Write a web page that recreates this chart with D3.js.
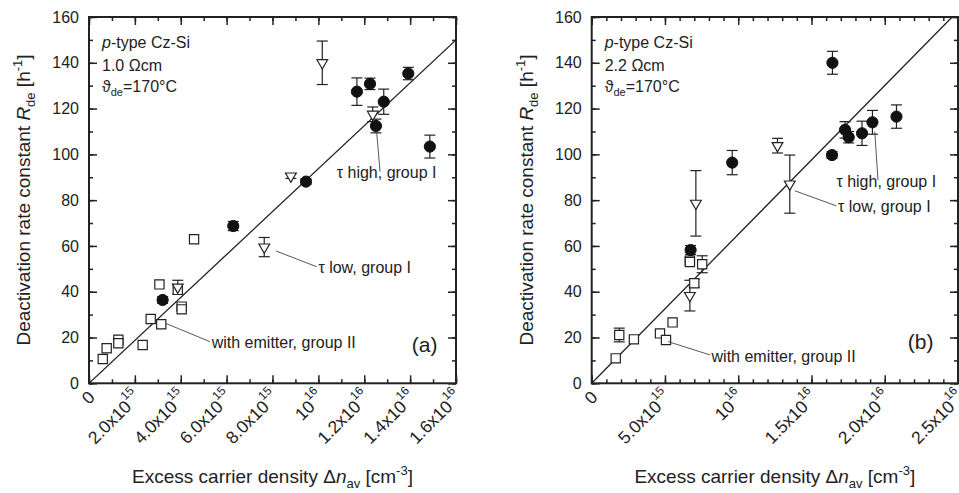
<!DOCTYPE html>
<html>
<head>
<meta charset="utf-8">
<script src="https://cdn.jsdelivr.net/npm/d3@7"></script>
<style>
  body { margin: 0; background: #fff; }
  text { font-family: "Liberation Sans", Arial, sans-serif; fill: #222; }
</style>
</head>
<body>
<script>
// ---- data: [excess carrier density (cm^-3), R_de (1/h), error] ----
const aHigh = [
  [11.68e15, 127.4, 6], [12.25e15, 130.8, 2.5], [12.85e15, 123, 5.5], [12.51e15, 112.4, 3],
  [13.92e15, 135.3, 2.7], [14.86e15, 103.4, 5], [9.46e15, 88.1, 1.2], [6.29e15, 68.7, 2],
  [3.21e15, 36.4, 1.5]
];
const aLow = [
  [10.17e15, 140, 9.5], [12.37e15, 117.5, 3.2], [8.8e15, 90.5, 1], [7.64e15, 59.5, 4.2],
  [3.87e15, 42, 3]
];
const aEmitter = [
  [4.58e15, 62.9, 0], [3.07e15, 43.2, 0], [3.87e15, 40.8, 0], [4.04e15, 33.5, 0],
  [4.04e15, 32.3, 0], [2.69e15, 28.1, 0], [3.15e15, 25.8, 0], [2.34e15, 16.7, 0],
  [1.28e15, 19, 0], [1.28e15, 17.5, 0], [0.77e15, 15.3, 0], [0.6e15, 10.6, 0]
];
const aFit = [[0, 0], [16e15, 150]];

const bHigh = [
  [16.43e15, 140, 5], [17.29e15, 110.7, 3.6], [17.54e15, 107.5, 2.5], [18.45e15, 109.2, 5.3],
  [19.16e15, 114, 5.2], [20.8e15, 116.5, 5.1], [16.4e15, 99.7, 1.5], [9.59e15, 96.4, 5.3],
  [6.75e15, 58.2, 2]
];
const bLow = [
  [12.68e15, 103.8, 3.2], [13.52e15, 87, 12.7], [7.11e15, 78.6, 14.3], [6.7e15, 38.3, 6.7]
];
const bEmitter = [
  [6.7e15, 53.6, 0], [6.7e15, 53, 0], [7.54e15, 52, 3.7], [7.0e15, 43.7, 1.7],
  [5.52e15, 26.6, 0], [4.66e15, 21.8, 0], [5.07e15, 18.9, 0], [2.88e15, 19.2, 0],
  [1.88e15, 21.1, 3], [1.64e15, 10.9, 0]
];
const bFit = [[0, 0], [24.6e15, 160]];

// tick labels: [value, mantissa, exponent]
const aXTicks = [
  [0, '0', ''], [2e15, '2.0x10', '15'], [4e15, '4.0x10', '15'], [6e15, '6.0x10', '15'],
  [8e15, '8.0x10', '15'], [10e15, '10', '16'], [12e15, '1.2x10', '16'], [14e15, '1.4x10', '16'],
  [16e15, '1.6x10', '16']
];
const bXTicks = [
  [0, '0', ''], [5e15, '5.0x10', '15'], [10e15, '10', '16'], [15e15, '1.5x10', '16'],
  [20e15, '2.0x10', '16'], [25e15, '2.5x10', '16']
];
const yTicks = [0, 20, 40, 60, 80, 100, 120, 140, 160];

const panels = [
  {
    high: aHigh, low: aLow, emitter: aEmitter, fit: aFit, xTicks: aXTicks,
    xMax: 16e15, minor: 1e15, left: 89, right: 456, rho: '1.0 Ωcm', tag: '(a)',
    tagAt: [14.07e15, 13.8],
    notes: [
      { text: 'τ high, group I', at: [10.8e15, 89.7], line: [[12.54e15, 109.9], [12.69e15, 92.4]] },
      { text: 'τ low, group I', at: [10.0e15, 48.3], line: [[8.15e15, 57.8], [9.93e15, 50.9]] },
      { text: 'with emitter, group II', at: [5.35e15, 15.3], line: [[3.34e15, 26.2], [5.27e15, 18.2]] }
    ]
  },
  {
    high: bHigh, low: bLow, emitter: bEmitter, fit: bFit, xTicks: bXTicks,
    xMax: 25e15, minor: 1e15, left: 591.7, right: 958, rho: '2.2 Ωcm', tag: '(b)',
    tagAt: [21.57e15, 14.9],
    notes: [
      { text: 'τ high, group I', at: [16.7e15, 85.9], line: [[19.32e15, 109.9], [19.54e15, 88.8]] },
      { text: 'τ low, group I', at: [16.81e15, 75], line: [[13.86e15, 84.1], [16.7e15, 77.5]] },
      { text: 'with emitter, group II', at: [8.18e15, 9.4], line: [[5.22e15, 18.2], [8.07e15, 12.4]] }
    ]
  }
];

const W = 959, H = 493, plotTop = 17, plotBottom = 383.3;
const ink = '#222';
const svg = d3.select('body').append('svg').attr('width', W).attr('height', H);

panels.forEach((p, i) => {
  const x = d3.scaleLinear().domain([0, p.xMax]).range([p.left, p.right]);
  const y = d3.scaleLinear().domain([0, 160]).range([plotBottom, plotTop]);
  const g = svg.append('g');
  const nMinor = Math.round(p.xMax / p.minor);
  const xMinorVals = d3.range(0, nMinor + 1).map(k => k * p.minor);
  const xMajorVals = p.xTicks.map(t => t[0]);
  const yMinorVals = d3.range(0, 17).map(k => k * 10);

  // clip for fit line
  g.append('clipPath').attr('id', 'clip' + i)
    .append('rect').attr('x', p.left).attr('y', plotTop)
    .attr('width', p.right - p.left).attr('height', plotBottom - plotTop);

  // ticks, inward on all four sides
  const tickAxes = [
    [d3.axisBottom(x), `translate(0,${plotBottom})`, xMinorVals, xMajorVals],
    [d3.axisTop(x), `translate(0,${plotTop})`, xMinorVals, xMajorVals],
    [d3.axisLeft(y), `translate(${p.left},0)`, yMinorVals, yTicks],
    [d3.axisRight(y), `translate(${p.right},0)`, yMinorVals, yTicks]
  ];
  tickAxes.forEach(([ax, tr, minorV, majorV]) => {
    const a1 = g.append('g').attr('transform', tr)
      .call(ax.tickValues(minorV).tickSize(-4).tickFormat(''));
    a1.select('.domain').remove();
    a1.selectAll('line').attr('stroke', ink).attr('stroke-width', 1.5);
    const a2 = g.append('g').attr('transform', tr)
      .call(ax.tickValues(majorV).tickSize(-8).tickFormat(''));
    a2.select('.domain').remove();
    a2.selectAll('line').attr('stroke', ink).attr('stroke-width', 1.5);
  });

  // y tick labels
  const yl = g.append('g').attr('transform', `translate(${p.left},0)`)
    .call(d3.axisLeft(y).tickValues(yTicks).tickSize(0).tickPadding(10));
  yl.select('.domain').remove();
  yl.attr('font-size', 16).attr('font-family', '"Liberation Sans", Arial, sans-serif');
  yl.selectAll('text').attr('fill', ink);

  // rotated x tick labels
  p.xTicks.forEach(([v, m, e]) => {
    const t = g.append('text')
      .attr('transform', `translate(${x(v) + 7},${plotBottom + 15}) rotate(-45)`)
      .attr('text-anchor', 'end').attr('font-size', 17.5);
    t.append('tspan').text(m);
    if (e) t.append('tspan').attr('dy', -10).attr('font-size', 12).text(e);
  });

  // frame
  g.append('rect').attr('x', p.left).attr('y', plotTop)
    .attr('width', p.right - p.left).attr('height', plotBottom - plotTop)
    .attr('fill', 'none').attr('stroke', ink).attr('stroke-width', 2);

  // fit line
  g.append('path').attr('clip-path', `url(#clip${i})`)
    .attr('d', d3.line().x(d => x(d[0])).y(d => y(d[1]))(p.fit))
    .attr('stroke', ink).attr('stroke-width', 1.3).attr('fill', 'none');

  // error bars
  const withErr = [...p.emitter, ...p.low, ...p.high].filter(d => d[2] > 0);
  const eb = g.append('g').attr('stroke', ink).attr('stroke-width', 1.2);
  withErr.forEach(d => {
    const cx = x(d[0]), y1 = y(d[1] + d[2]), y2 = y(d[1] - d[2]);
    eb.append('line').attr('x1', cx).attr('x2', cx).attr('y1', y1).attr('y2', y2);
    eb.append('line').attr('x1', cx - 5.5).attr('x2', cx + 5.5).attr('y1', y1).attr('y2', y1);
    eb.append('line').attr('x1', cx - 5.5).attr('x2', cx + 5.5).attr('y1', y2).attr('y2', y2);
  });

  // markers
  g.append('g').selectAll('path').data(p.emitter).join('path')
    .attr('d', d3.symbol(d3.symbolSquare, 85))
    .attr('transform', d => `translate(${x(d[0])},${y(d[1])})`)
    .attr('fill', '#fff').attr('stroke', ink).attr('stroke-width', 1.2);
  g.append('g').selectAll('path').data(p.low).join('path')
    .attr('d', d3.symbol(d3.symbolTriangle, 50))
    .attr('transform', d => `translate(${x(d[0])},${y(d[1])}) rotate(180)`)
    .attr('fill', '#fff').attr('stroke', ink).attr('stroke-width', 1.2);
  g.append('g').selectAll('circle').data(p.high).join('circle')
    .attr('cx', d => x(d[0])).attr('cy', d => y(d[1])).attr('r', 5.6)
    .attr('fill', '#111').attr('stroke', '#111');

  // annotations
  p.notes.forEach(n => {
    g.append('path').attr('d', d3.line().x(d => x(d[0])).y(d => y(d[1]))(n.line))
      .attr('stroke', '#444').attr('stroke-width', 0.9).attr('fill', 'none');
    g.append('text').attr('x', x(n.at[0])).attr('y', y(n.at[1]))
      .attr('font-size', 16).text(n.text);
  });
  g.append('text').attr('x', x(p.tagAt[0])).attr('y', y(p.tagAt[1]))
    .attr('font-size', 21).text(p.tag);

  // sample info
  const ix = p.left + 13;
  const t1 = g.append('text').attr('x', ix).attr('y', plotTop + 31).attr('font-size', 16);
  t1.append('tspan').attr('font-style', 'italic').text('p');
  t1.append('tspan').text('-type Cz-Si');
  g.append('text').attr('x', ix).attr('y', plotTop + 53.5).attr('font-size', 16).text(p.rho);
  const t3 = g.append('text').attr('x', ix).attr('y', plotTop + 74.5).attr('font-size', 16);
  t3.append('tspan').text('ϑ');
  t3.append('tspan').attr('dy', 4).attr('font-size', 11).text('de');
  t3.append('tspan').attr('dy', -4).text('=170°C');

  // axis titles
  const cx = (p.left + p.right) / 2;
  const xt = g.append('text').attr('x', cx).attr('y', 483)
    .attr('text-anchor', 'middle').attr('font-size', 19);
  xt.append('tspan').text('Excess carrier density Δ');
  xt.append('tspan').attr('font-style', 'italic').text('n');
  xt.append('tspan').attr('dy', 5).attr('font-size', 13).text('av');
  xt.append('tspan').attr('dy', -5).text(' [cm');
  xt.append('tspan').attr('dy', -8).attr('font-size', 13).text('-3');
  xt.append('tspan').attr('dy', 8).text(']');

  const ytx = i === 0 ? 30 : 533;
  const yt = g.append('text').attr('transform', `translate(${ytx},200) rotate(-90)`)
    .attr('text-anchor', 'middle').attr('font-size', 19);
  yt.append('tspan').text('Deactivation rate constant ');
  yt.append('tspan').attr('font-style', 'italic').text('R');
  yt.append('tspan').attr('dy', 5).attr('font-size', 13).text('de');
  yt.append('tspan').attr('dy', -5).text(' [h');
  yt.append('tspan').attr('dy', -8).attr('font-size', 13).text('-1');
  yt.append('tspan').attr('dy', 8).text(']');
});
</script>
</body>
</html>
